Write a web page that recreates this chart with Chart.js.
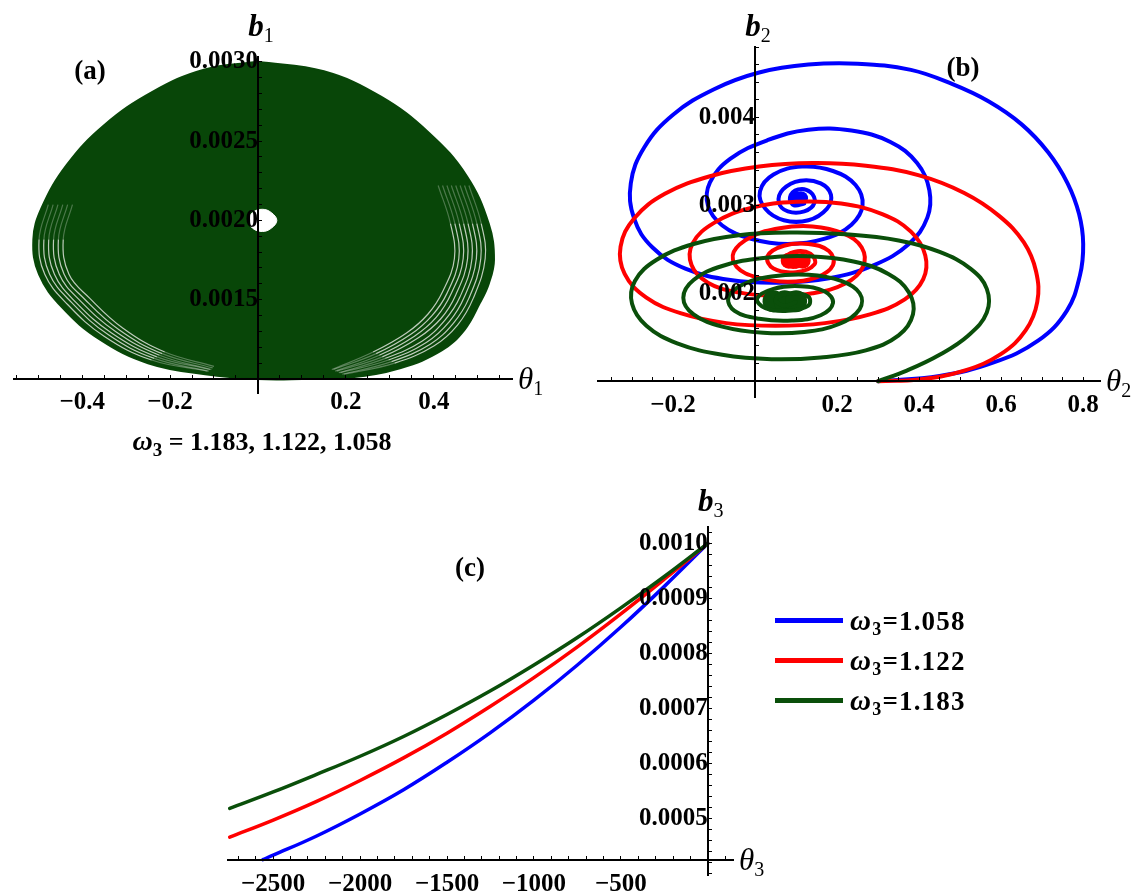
<!DOCTYPE html>
<html lang="en">
<head>
<meta charset="UTF-8">
<title>Phase portraits b vs theta</title>
<script src="https://cdn.jsdelivr.net/npm/chart.js@4.4.3/dist/chart.umd.min.js"></script>
<style>
  body { margin: 0; background: #fff; }
  #fig { position: relative; width: 1140px; height: 893px; overflow: hidden; }
  #fig canvas { position: absolute; }
  #legendC { position: absolute; left: 775px; top: 600px; font: bold 27px "Liberation Serif", serif; letter-spacing: 1.2px; }
  #legendC .row { height: 40px; display: flex; align-items: center; white-space: nowrap; }
  #legendC .sw { display: inline-block; width: 68px; height: 5px; margin-right: 7px; }
  #legendC i { font-size: 29px; }
  #legendC sub { font-size: 18px; vertical-align: -5px; line-height: 0; }
</style>
</head>
<body>
<div id="fig">
  <canvas id="chartA" width="570" height="470" style="left:0;top:0;width:570px;height:470px"></canvas>
  <canvas id="chartB" width="570" height="440" style="left:570px;top:0;width:570px;height:440px"></canvas>
  <canvas id="chartC" width="600" height="438" style="left:180px;top:455px;width:600px;height:438px"></canvas>
  <div id="legendC"></div>
</div>

<script>
// ---- (a) omega3 = 1.183, 1.122, 1.058 : wound-up orbit in (theta1, b1) ----
const orbitEdgeA = [
  [0.000, 0.00300], [0.150, 0.00294], [0.280, 0.00278], [0.390, 0.00255], [0.475, 0.00228],
  [0.525, 0.00198], [0.537, 0.00175], [0.525, 0.00160], [0.505, 0.00148], [0.470, 0.00131],
  [0.418, 0.00118], [0.325, 0.00107], [0.210, 0.00101], [0.100, 0.00100], [0.000, 0.00100],
  [-0.120, 0.00103], [-0.250, 0.00110], [-0.360, 0.00125], [-0.445, 0.00145], [-0.498, 0.00166],
  [-0.511, 0.00188], [-0.492, 0.00208], [-0.435, 0.00235], [-0.350, 0.00260], [-0.240, 0.00281],
  [-0.123, 0.00295], [0.000, 0.00300]
];
// thin gaps between neighbouring loops, seen on the lower flanks
const gapsRightA = [
  [[0.480, 0.00222], [0.508, 0.00198], [0.517, 0.00176], [0.490, 0.00151], [0.454, 0.00134], [0.401, 0.00121], [0.311, 0.00110], [0.196, 0.00103]],
  [[0.470, 0.00222], [0.498, 0.00198], [0.507, 0.00176], [0.480, 0.00151], [0.444, 0.00135], [0.392, 0.00122], [0.304, 0.00111], [0.192, 0.00103]],
  [[0.460, 0.00222], [0.488, 0.00198], [0.497, 0.00176], [0.470, 0.00152], [0.435, 0.00136], [0.383, 0.00123], [0.297, 0.00112], [0.188, 0.00104]],
  [[0.450, 0.00222], [0.478, 0.00198], [0.487, 0.00176], [0.460, 0.00152], [0.425, 0.00137], [0.374, 0.00124], [0.290, 0.00113], [0.184, 0.00104]],
  [[0.440, 0.00222], [0.468, 0.00198], [0.477, 0.00176], [0.450, 0.00153], [0.416, 0.00138], [0.365, 0.00126], [0.283, 0.00114], [0.180, 0.00105]],
  [[0.430, 0.00222], [0.458, 0.00198], [0.467, 0.00176], [0.440, 0.00154], [0.406, 0.00139], [0.356, 0.00127], [0.276, 0.00115], [0.176, 0.00105]],
  [[0.420, 0.00222], [0.448, 0.00198], [0.457, 0.00176], [0.430, 0.00154], [0.396, 0.00140], [0.347, 0.00128], [0.269, 0.00116], [0.172, 0.00106]],
  [[0.410, 0.00222], [0.438, 0.00198], [0.447, 0.00176], [0.420, 0.00155], [0.387, 0.00141], [0.338, 0.00129], [0.262, 0.00117], [0.168, 0.00106]]
];
const gapsLeftA = [
  [[-0.477, 0.00210], [-0.498, 0.00188], [-0.485, 0.00166], [-0.433, 0.00147], [-0.350, 0.00127], [-0.242, 0.00112], [-0.115, 0.00105]],
  [[-0.466, 0.00210], [-0.487, 0.00188], [-0.474, 0.00166], [-0.423, 0.00148], [-0.341, 0.00128], [-0.236, 0.00113], [-0.112, 0.00105]],
  [[-0.455, 0.00210], [-0.476, 0.00188], [-0.463, 0.00166], [-0.413, 0.00148], [-0.333, 0.00129], [-0.230, 0.00114], [-0.109, 0.00106]],
  [[-0.444, 0.00210], [-0.465, 0.00188], [-0.452, 0.00166], [-0.403, 0.00149], [-0.324, 0.00130], [-0.224, 0.00115], [-0.106, 0.00106]],
  [[-0.433, 0.00210], [-0.454, 0.00188], [-0.441, 0.00166], [-0.393, 0.00150], [-0.316, 0.00131], [-0.218, 0.00116], [-0.103, 0.00107]],
  [[-0.422, 0.00210], [-0.443, 0.00188], [-0.430, 0.00166], [-0.383, 0.00151], [-0.307, 0.00132], [-0.212, 0.00117], [-0.100, 0.00108]]
];
const holeA = [
  [-0.023, 0.00200], [-0.012, 0.00205], [0.010, 0.00207], [0.030, 0.00205], [0.043, 0.00200],
  [0.030, 0.00195], [0.010, 0.00193], [-0.012, 0.00195], [-0.023, 0.00200]
];

// ---- (b) trajectories in (theta2, b2) ----
const spiralB1058 = [
  [0.30, 0.00100], [0.45, 0.00106], [0.58, 0.00121], [0.69, 0.00146], [0.76, 0.00180],
  [0.792, 0.00220], [0.80, 0.00256], [0.79, 0.00290], [0.762, 0.00325], [0.715, 0.00360],
  [0.65, 0.00392], [0.57, 0.00418], [0.48, 0.00438], [0.38, 0.00454], [0.25, 0.00461], [0.13, 0.00460],
  [0.01, 0.00451], [-0.10, 0.00432], [-0.20, 0.00403], [-0.27, 0.00366], [-0.303, 0.00325],
  [-0.295, 0.00285], [-0.25, 0.00252], [-0.17, 0.00228], [-0.06, 0.00215], [0.06, 0.00212],
  [0.18, 0.00217], [0.29, 0.00232], [0.375, 0.00256], [0.42, 0.00286], [0.425, 0.00317],
  [0.395, 0.00348], [0.33, 0.00372], [0.235, 0.00385], [0.13, 0.00386], [0.03, 0.00374],
  [-0.06, 0.00353], [-0.11, 0.00326], [-0.115, 0.00300], [-0.08, 0.00277], [-0.01, 0.00262],
  [0.08, 0.00256], [0.17, 0.00262], [0.235, 0.00278], [0.262, 0.00300], [0.245, 0.00323],
  [0.19, 0.00339], [0.115, 0.00344], [0.045, 0.00335], [0.012, 0.00316], [0.025, 0.00296],
  [0.07, 0.00283], [0.13, 0.00283], [0.175, 0.00296], [0.185, 0.00312], [0.16, 0.00325],
  [0.11, 0.00328], [0.068, 0.00318], [0.058, 0.00303], [0.08, 0.00293], [0.12, 0.00293],
  [0.145, 0.00303], [0.135, 0.00315], [0.105, 0.00318], [0.085, 0.00309], [0.095, 0.00300],
  [0.12, 0.00302]
];
const spiralB1122 = [
  [0.30, 0.00100], [0.40, 0.00102], [0.51, 0.00112], [0.60, 0.00131], [0.66, 0.00158],
  [0.688, 0.00190], [0.685, 0.00225], [0.655, 0.00258], [0.595, 0.00288], [0.51, 0.00314],
  [0.40, 0.00334], [0.27, 0.00345], [0.14, 0.00348], [0.01, 0.00344], [-0.11, 0.00333],
  [-0.22, 0.00313], [-0.295, 0.00285], [-0.328, 0.00253], [-0.318, 0.00222], [-0.265, 0.00195],
  [-0.18, 0.00177], [-0.07, 0.00166], [0.05, 0.00163], [0.17, 0.00166], [0.28, 0.00176],
  [0.365, 0.00193], [0.41, 0.00216], [0.415, 0.00243], [0.38, 0.00270], [0.31, 0.00290],
  [0.21, 0.00302], [0.10, 0.00304], [-0.01, 0.00297], [-0.10, 0.00280], [-0.152, 0.00257],
  [-0.155, 0.00232], [-0.115, 0.00212], [-0.04, 0.00201], [0.05, 0.00197], [0.14, 0.00200],
  [0.22, 0.00211], [0.263, 0.00230], [0.26, 0.00252], [0.215, 0.00268], [0.14, 0.00276],
  [0.06, 0.00274], [-0.01, 0.00264], [-0.052, 0.00247], [-0.045, 0.00230], [0.005, 0.00218],
  [0.08, 0.00213], [0.15, 0.00218], [0.19, 0.00232], [0.18, 0.00248], [0.13, 0.00256],
  [0.07, 0.00254], [0.03, 0.00242], [0.045, 0.00228], [0.10, 0.00224], [0.145, 0.00233],
  [0.135, 0.00245], [0.095, 0.00247], [0.07, 0.00238], [0.09, 0.00230], [0.12, 0.00234]
];
const spiralB1183 = [
  [0.30, 0.00100], [0.37, 0.00112], [0.45, 0.00130], [0.52, 0.00152], [0.565, 0.00178],
  [0.565, 0.00205], [0.525, 0.00228], [0.45, 0.00247], [0.35, 0.00260], [0.22, 0.00267],
  [0.09, 0.00269], [-0.04, 0.00266], [-0.15, 0.00256], [-0.24, 0.00238], [-0.293, 0.00214],
  [-0.300, 0.00188], [-0.265, 0.00163], [-0.19, 0.00143], [-0.08, 0.00130], [0.04, 0.00125],
  [0.16, 0.00127], [0.27, 0.00135], [0.35, 0.00152], [0.385, 0.00176], [0.375, 0.00201],
  [0.325, 0.00222], [0.24, 0.00236], [0.13, 0.00242], [0.02, 0.00240], [-0.08, 0.00231],
  [-0.15, 0.00215], [-0.175, 0.00195], [-0.15, 0.00176], [-0.08, 0.00162], [0.02, 0.00155],
  [0.12, 0.00156], [0.205, 0.00165], [0.255, 0.00182], [0.255, 0.00200], [0.21, 0.00214],
  [0.13, 0.00221], [0.04, 0.00219], [-0.03, 0.00210], [-0.065, 0.00195], [-0.05, 0.00180],
  [0.01, 0.00171], [0.09, 0.00169], [0.16, 0.00175], [0.19, 0.00189], [0.17, 0.00202],
  [0.11, 0.00208], [0.045, 0.00205], [0.005, 0.00194], [0.025, 0.00183], [0.08, 0.00180],
  [0.13, 0.00186], [0.13, 0.00196], [0.085, 0.00200], [0.05, 0.00193], [0.07, 0.00186],
  [0.10, 0.00190]
];
const coreB1058 = [[0.100, 0.00308], [0.112, 0.00308]];
const coreB1122 = [[0.082, 0.00237], [0.100, 0.00237], [0.116, 0.00237]];
const coreB1183 = [[0.045, 0.00191], [0.072, 0.00191], [0.100, 0.00191]];

// ---- (c) b3 against theta3 ----
const theta3 = [-2750, -2500, -2250, -2000, -1750, -1500, -1250, -1000, -750, -500, -250, 0];
const b3w1183 = [0.000518, 0.000548, 0.000580, 0.000613, 0.000649, 0.000689, 0.000732, 0.000779, 0.000829, 0.000883, 0.000940, 0.001000];
const b3w1122 = [0.000466, 0.000497, 0.000531, 0.000569, 0.000610, 0.000655, 0.000704, 0.000756, 0.000812, 0.000872, 0.000935, 0.001000];
const theta3w1058 = [-2560, -2500, -2250, -2000, -1750, -1500, -1250, -1000, -750, -500, -250, 0];
const b3w1058 = [0.000425, 0.000433, 0.000468, 0.000508, 0.000552, 0.000602, 0.000656, 0.000715, 0.000779, 0.000848, 0.000922, 0.001000];

// tick labels
const thetaTicksA = [-0.4, -0.2, 0.2, 0.4];
const bTicksA = [0.0015, 0.0020, 0.0025, 0.0030];
const thetaTicksB = [-0.2, 0.2, 0.4, 0.6, 0.8];
const bTicksB = [0.002, 0.003, 0.004];
const thetaTicksC = [-2500, -2000, -1500, -1000, -500];
const bTicksC = [0.0005, 0.0006, 0.0007, 0.0008, 0.0009, 0.0010];

const omegaNames = ['1.058', '1.122', '1.183'];
const omegaColors = ['#0000ff', '#ff0000', '#0a4f0a'];
const blobColor = '#084608';

Chart.defaults.font.family = '"Liberation Serif", "Times New Roman", serif';
Chart.defaults.color = '#000';

const pts = arr => arr.map(([x, y]) => ({ x, y }));
const zip = (xs, ys) => xs.map((x, i) => ({ x, y: ys[i] }));
const minus = s => s.replace('-', '\u2212');

function tickList(min, max, step) {
  const out = [];
  for (let k = Math.ceil(min / step - 1e-6); k * step <= max + step * 1e-6; k++) out.push(+(k * step).toFixed(10));
  return out;
}

function axis(o) {
  return {
    type: 'linear', min: o.min, max: o.max, position: o.position,
    afterBuildTicks: s => { s.ticks = tickList(o.min, o.max, o.step).map(v => ({ value: v })); },
    ticks: {
      z: 1, autoSkip: false, maxRotation: 0, padding: o.pad, color: '#000',
      font: { size: 25, weight: 'bold' },
      callback: v => {
        const hit = o.labels.find(l => Math.abs(l - v) < o.step / 10);
        return hit === undefined ? '' : o.fmt(hit);
      }
    },
    grid: { z: 1, drawOnChartArea: false, drawTicks: true, tickLength: -5, tickColor: '#000', tickWidth: 1 },
    border: { z: 1, display: true, color: '#000', width: 2 }
  };
}

function line(data, color, width, order) {
  return { data, showLine: true, borderColor: color, borderWidth: width, pointRadius: 0,
           tension: 0.4, fill: false, order, borderCapStyle: 'round', borderJoinStyle: 'round' };
}
function dots(data, color, r, order) {
  return { data, showLine: false, pointRadius: r, pointBackgroundColor: color, pointBorderWidth: 0, order };
}
// gap line that fades out at both ends
function gapLine(g) {
  const ds = line(pts(g), 'rgba(236,238,232,0.8)', 1.2, 1);
  ds.borderCapStyle = 'butt';
  ds.segment = { borderColor: c => c.p0DataIndex === 0 ? 'rgba(236,238,232,0.3)'
    : (c.p1DataIndex === g.length - 1 ? 'rgba(236,238,232,0.35)' : undefined) };
  return ds;
}

// text helper: runs of text with their own fonts (for sub-scripts)
function drawRuns(ctx, runs, x, y, align) {
  ctx.save();
  ctx.fillStyle = '#000';
  ctx.textBaseline = 'alphabetic';
  ctx.textAlign = 'left';
  let w = 0;
  runs.forEach(r => { ctx.font = r.font; r.w = ctx.measureText(r.text).width; w += r.w; });
  let cx = align === 'center' ? x - w / 2 : x;
  runs.forEach(r => { ctx.font = r.font; ctx.fillText(r.text, cx, y + (r.dy || 0)); cx += r.w; });
  ctx.restore();
}
const F = {
  b: 'bold italic 31px "Liberation Serif"',
  th: 'italic 31px "Liberation Serif"',
  sub: '20px "Liberation Serif"',
  subB: 'bold 19px "Liberation Serif"',
  tag: 'bold 27px "Liberation Serif"',
  txt: 'bold 26px "Liberation Serif"',
  om: 'bold italic 28px "Liberation Serif"'
};
function axisNames(chart, n, bY) {
  const ctx = chart.ctx, sx = chart.scales.x, sy = chart.scales.y;
  const x0 = sx.getPixelForValue(0);
  drawRuns(ctx, [{ text: 'b', font: F.b }, { text: n, font: F.sub, dy: 6 }], x0 + 3, bY, 'center');
  const yAx = sy.getPixelForValue(chart.options.scales.x.position.y);
  drawRuns(ctx, [{ text: '\u03b8', font: F.th }, { text: n, font: F.sub, dy: 6 }], chart.chartArea.right + 6, yAx + 10, 'left');
}

const baseOpts = (padding, scales) => ({
  responsive: false, animation: false, events: [],
  layout: { padding },
  plugins: { legend: { display: false }, tooltip: { enabled: false } },
  scales
});

// ---------- chart (a) ----------
const dsA = [];
dsA.push({ data: pts(holeA), showLine: true, borderColor: '#fff', borderWidth: 1, backgroundColor: '#fff',
           fill: 'shape', pointRadius: 0, tension: 0.4, order: 0 });
gapsRightA.concat(gapsLeftA).forEach(g => dsA.push(gapLine(g)));
dsA.push({ data: pts(orbitEdgeA), showLine: true, borderColor: blobColor, borderWidth: 2, backgroundColor: blobColor,
           fill: 'shape', pointRadius: 0, tension: 0.4, order: 5 });

new Chart(document.getElementById('chartA'), {
  type: 'scatter',
  data: { datasets: dsA },
  options: baseOpts({ left: 14, right: 58, top: 57, bottom: 77 }, {
    x: axis({ min: -0.555, max: 0.578, step: 0.05, labels: thetaTicksA, fmt: v => minus(v.toFixed(1)), position: { y: 0.001 }, pad: 14 }),
    y: axis({ min: 0.000912, max: 0.00303, step: 0.0001, labels: bTicksA, fmt: v => v.toFixed(4), position: { x: 0 }, pad: 0 })
  }),
  plugins: [{
    id: 'textA',
    afterDraw(chart) {
      axisNames(chart, '1', 36);
      drawRuns(chart.ctx, [{ text: '(a)', font: F.tag }], 90, 79, 'center');
      drawRuns(chart.ctx, [{ text: '\u03c9', font: F.om }, { text: '3', font: F.subB, dy: 6 },
        { text: ' = 1.183, 1.122, 1.058', font: F.txt }], 262, 450, 'center');
    }
  }]
});

// ---------- chart (b) ----------
new Chart(document.getElementById('chartB'), {
  type: 'scatter',
  data: { datasets: [
    line(pts(spiralB1183), omegaColors[2], 4, 0),
    dots(pts(coreB1183), omegaColors[2], 11, 0),
    line(pts(spiralB1122), omegaColors[1], 4, 1),
    dots(pts(coreB1122), omegaColors[1], 8, 1),
    line(pts(spiralB1058), omegaColors[0], 4, 2),
    dots(pts(coreB1058), omegaColors[0], 7, 2)
  ] },
  options: baseOpts({ left: 28, right: 40, top: 47, bottom: 43 }, {
    x: axis({ min: -0.383, max: 0.841, step: 0.05, labels: thetaTicksB, fmt: v => minus(v.toFixed(1)), position: { y: 0.001 }, pad: 14 }),
    y: axis({ min: 0.00082, max: 0.0048, step: 0.0002, labels: bTicksB, fmt: v => v.toFixed(3), position: { x: 0 }, pad: 0 })
  }),
  plugins: [{
    id: 'textB',
    afterDraw(chart) {
      axisNames(chart, '2', 36);
      drawRuns(chart.ctx, [{ text: '(b)', font: F.tag }], 963 - 570, 76, 'center');
    }
  }]
});

// ---------- chart (c) ----------
new Chart(document.getElementById('chartC'), {
  type: 'scatter',
  data: { datasets: [
    line(zip(theta3, b3w1183), omegaColors[2], 3.5, 0),
    line(zip(theta3, b3w1122), omegaColors[1], 3.5, 1),
    line(zip(theta3w1058, b3w1058), omegaColors[0], 3.5, 2)
  ] },
  options: baseOpts({ left: 48, right: 47, top: 72, bottom: 18 }, {
    x: axis({ min: -2760, max: 145, step: 100, labels: thetaTicksC, fmt: v => minus(String(v)), position: { y: 0.000424 }, pad: 14 }),
    y: axis({ min: 0.000397, max: 0.00103, step: 0.00002, labels: bTicksC, fmt: v => v.toFixed(4), position: { x: 0 }, pad: 0 })
  }),
  plugins: [{
    id: 'textC',
    afterDraw(chart) {
      axisNames(chart, '3', 56);
      drawRuns(chart.ctx, [{ text: '(c)', font: F.tag }], 470 - 180, 576 - 455, 'center');
    }
  }]
});

// legend of (c)
document.getElementById('legendC').innerHTML = omegaNames.map((n, i) =>
  `<div class="row"><span class="sw" style="background:${omegaColors[i]}"></span><span><i>\u03c9</i><sub>3</sub>=${n}</span></div>`
).join('');
</script>
</body>
</html>
